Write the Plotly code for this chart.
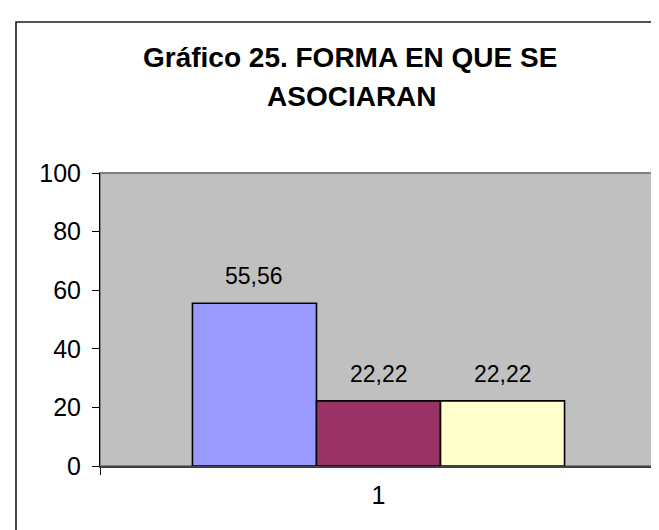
import plotly.graph_objects as go

# ---- data ----
categories = ["1"]
series_names = ["Serie 1", "Serie 2", "Serie 3"]
series_values = [55.56, 22.22, 22.22]
series_colors = ["#9999FF", "#993366", "#FFFFCC"]
value_labels = ["55,56", "22,22", "22,22"]
y_ticks = [0, 20, 40, 60, 80, 100]
title_lines = ["Gráfico 25. FORMA EN QUE SE", "ASOCIARAN"]

FONT = "Liberation Sans, Arial, sans-serif"
BARGAP = 0.332

W, H = 659, 530
ml, mr, mt, mb = 92, 10, 165, 72
pw, ph = W - ml - mr, H - mt - mb

def px_x(x):  # pixel -> paper
    return (x - ml) / pw

def px_y(y):
    return (H - mb - y) / ph

fig = go.Figure()
for name, val, col in zip(series_names, series_values, series_colors):
    fig.add_trace(go.Bar(
        x=categories, y=[val], name=name,
        marker=dict(color=col, line=dict(color="black", width=1.6)),
        hoverinfo="skip",
    ))

n = len(series_values)
w = (1 - BARGAP) / n
for i, (val, lab) in enumerate(zip(series_values, value_labels)):
    fig.add_annotation(
        x=(i - (n - 1) / 2) * w, y=val, xref="x", yref="y",
        text=lab, showarrow=False, yanchor="middle", yshift=27,
        font=dict(family=FONT, size=23, color="black"),
    )

# title, two lines
for line, (cx, cy) in zip(title_lines, [(342, 50), (344, 88)]):
    fig.add_annotation(
        x=px_x(cx), y=px_y(cy), xref="paper", yref="paper",
        text="<b>" + line + "</b>", showarrow=False,
        xanchor="center", yanchor="middle",
        font=dict(family=FONT, size=28, color="black"),
    )

# outer chart border (extends past right/bottom edges)
fig.add_shape(type="rect", xref="paper", yref="paper",
              x0=px_x(8), x1=px_x(W + 20),
              y0=px_y(H + 20), y1=px_y(14),
              line=dict(color="#1a1a1a", width=1.6), fillcolor="rgba(0,0,0,0)",
              layer="below")
# plot area border (grey)
fig.add_shape(type="rect", xref="paper", yref="paper",
              x0=0, x1=1, y0=0, y1=1,
              line=dict(color="#808080", width=2), fillcolor="rgba(0,0,0,0)",
              layer="below")

fig.update_layout(
    width=W, height=H,
    margin=dict(l=ml, r=mr, t=mt, b=mb, autoexpand=False),
    paper_bgcolor="white", plot_bgcolor="#C0C0C0",
    barmode="group", bargap=BARGAP, bargroupgap=0,
    showlegend=False,
    font=dict(family=FONT, color="black"),
)
fig.update_yaxes(range=[0, 100], tickvals=y_ticks, showgrid=False,
                 showline=True, linecolor="black", linewidth=1,
                 ticks="outside", ticklen=7, tickcolor="black",
                 ticklabelstandoff=6, automargin=False,
                 tickfont=dict(family=FONT, size=25, color="black"),
                 zeroline=False, fixedrange=True)
fig.update_xaxes(type="category", showgrid=False,
                 showline=True, linecolor="#404040", linewidth=2,
                 ticks="outside", ticklen=7, tickcolor="black",
                 tickson="boundaries", ticklabelstandoff=6, automargin=False,
                 tickfont=dict(family=FONT, size=25, color="black"),
                 fixedrange=True)

fig.write_html("out.html")
